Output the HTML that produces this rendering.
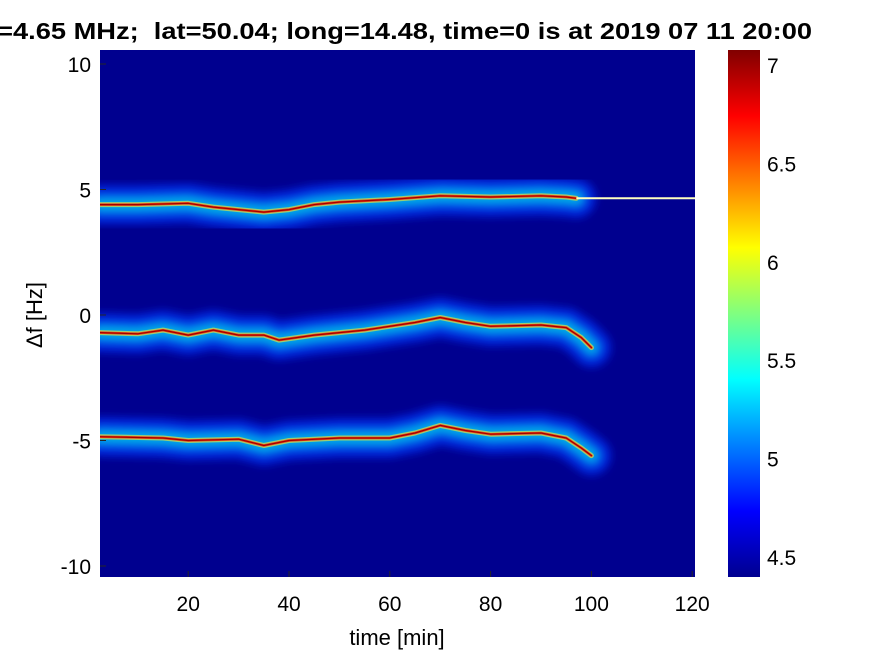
<!DOCTYPE html>
<html><head><meta charset="utf-8"><style>
body{margin:0;background:#fff;font-family:"Liberation Sans",sans-serif}
svg text{font-family:"Liberation Sans",sans-serif}
</style></head><body>
<svg id="chart" width="875" height="656">
<defs>
<linearGradient id="jet" x1="0" y1="1" x2="0" y2="0">
<stop offset="0" stop-color="#00008f"/><stop offset="0.125" stop-color="#0000ff"/>
<stop offset="0.375" stop-color="#00ffff"/><stop offset="0.625" stop-color="#ffff00"/>
<stop offset="0.875" stop-color="#ff0000"/><stop offset="1" stop-color="#800000"/>
</linearGradient>
<filter id="blur" x="-20%" y="-100%" width="140%" height="300%"><feGaussianBlur stdDeviation="4"/></filter>
<clipPath id="pc"><rect x="100" y="50" width="595" height="527"/></clipPath>
</defs>
<text x="-12" y="39" textLength="824" lengthAdjust="spacingAndGlyphs" font-size="23" font-weight="bold" xml:space="preserve">f=4.65 MHz;  lat=50.04; long=14.48, time=0 is at 2019 07 11 20:00</text>
<rect x="100" y="50" width="595" height="527" fill="#00008f"/>
<g id="bands" clip-path="url(#pc)"></g>
<g id="axes"></g>
<text x="42" y="315" transform="rotate(-90 42 315)" text-anchor="middle" font-size="22">Δf [Hz]</text>
<text x="397" y="645" text-anchor="middle" font-size="22">time [min]</text>
<rect x="728" y="50" width="32" height="527" fill="url(#jet)"/>
</svg>
<script>
const xTicks=[20,40,60,80,100,120];
const yTicks=[10,5,0,-5,-10];
const cTicks=[7,6.5,6,5.5,5,4.5];
const topT=[2.5,10,20,25,30,35,40,45,50,60,70,80,90,95,97];
const topF=[4.4,4.4,4.45,4.3,4.2,4.1,4.2,4.4,4.5,4.6,4.75,4.7,4.75,4.7,4.65];
const midT=[2.5,10,15,20,25,30,35,38,45,55,65,70,75,80,90,95,98,100];
const midF=[-0.7,-0.75,-0.6,-0.8,-0.6,-0.8,-0.8,-1.0,-0.8,-0.6,-0.3,-0.1,-0.3,-0.45,-0.4,-0.5,-0.9,-1.3];
const botT=[2.5,15,20,30,35,40,50,60,65,70,75,80,90,95,98,100];
const botF=[-4.85,-4.9,-5.0,-4.95,-5.2,-5.0,-4.9,-4.9,-4.7,-4.4,-4.6,-4.75,-4.7,-4.9,-5.3,-5.6];
const lineT=[97,120.6];const lineF=[4.65,4.65];
const X=t=>87.4+t*5.04, Y=f=>315-f*25.1, C=v=>557-(v-4.5)*196.8;
const NS="http://www.w3.org/2000/svg";
function mk(tag,at,parent){const e=document.createElementNS(NS,tag);for(const k in at)e.setAttribute(k,at[k]);parent.appendChild(e);return e;}
const bands=document.getElementById('bands'),axes=document.getElementById('axes');
function pts(T,F){return T.map((t,i)=>X(t).toFixed(1)+','+Y(F[i]).toFixed(1)).join(' ');}
[[topT,topF,'top'],[midT,midF,'middle'],[botT,botF,'bottom']].forEach(([T,F,n])=>{
 const g=mk('g',{},bands);
 
 
 [['#0030ff',40,0.6,1],['#0090ff',24,0.6,1],['#00e0e0',12,0.6,1],['#e0e040',5,0.7,0],['#ff3000',2.5,0.9,0],['#a00000',1.2,1,0]].forEach(([c,w,o,b])=>{
  const at={points:pts(T,F),fill:'none',stroke:c,'stroke-width':w,'stroke-opacity':o,'stroke-linejoin':'round','stroke-linecap':'round'};
  if(b)at.filter='url(#blur)';
  mk('polyline',at,g);
 });
});
const ln=mk('polyline',{points:pts(lineT,lineF),fill:'none',stroke:'#ffffc0','stroke-width':2},bands);


xTicks.forEach(t=>{const x=X(t);
 mk('line',{x1:x,y1:577,x2:x,y2:571,stroke:'#262626'},axes);
 const tx=mk('text',{x:x,y:611,'text-anchor':'middle','font-size':21},axes);tx.textContent=t;
 
 
});
yTicks.forEach(f=>{const y=Y(f);
 mk('line',{x1:100,y1:y,x2:106,y2:y,stroke:'#262626'},axes);
 const tx=mk('text',{x:91,y:y+8,'text-anchor':'end','font-size':21},axes);tx.textContent=f;
 
 
});
cTicks.forEach(v=>{const y=C(v);
 mk('line',{x1:754,y1:y,x2:760,y2:y,stroke:'#262626'},axes);
 const tx=mk('text',{x:767,y:y+8,'font-size':21},axes);tx.textContent=v;
 
 
});
</script>
</body></html>
